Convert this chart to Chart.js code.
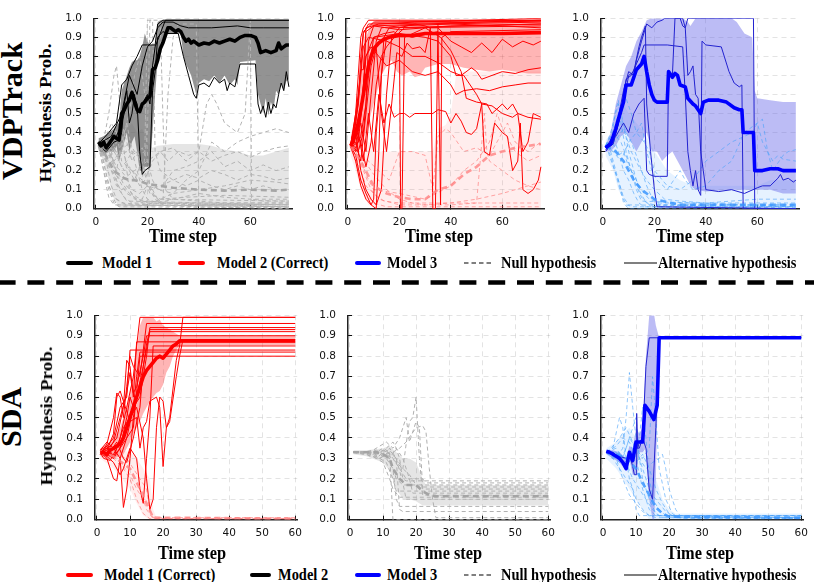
<!DOCTYPE html>
<html><head><meta charset="utf-8">
<script src="https://cdn.jsdelivr.net/npm/chart.js@4.4.1/dist/chart.umd.min.js"></script>
<style>
html,body{margin:0;padding:0;background:#fff;}
#root{position:relative;width:814px;height:582px;overflow:hidden;background:#fff;}
#root canvas{position:absolute;}
.t{position:absolute;font-family:"Liberation Serif","Times New Roman",serif;font-weight:bold;color:#000;white-space:nowrap;line-height:1;}
#ov{position:absolute;left:0;top:0;}
</style></head>
<body><div id="root"><svg id="ov" width="814" height="582"></svg></div>
<script>
// ---------- tick labels / texts ----------
const X_TICKS_TOP = [0, 20, 40, 60];
const X_TICKS_BOT = [0, 10, 20, 30, 40, 50, 60];
const Y_TICKS = [0, 0.1, 0.2, 0.3, 0.4, 0.5, 0.6, 0.7, 0.8, 0.9, 1.0];
const ROW_LABELS = ['VDPTrack', 'SDA'];
const Y_TITLE = 'Hypothesis Prob.';
const X_TITLE = 'Time step';
const LEGEND_TOP = ['Model 1', 'Model 2 (Correct)', 'Model 3', 'Null hypothesis', 'Alternative hypothesis'];
const LEGEND_BOT = ['Model 1 (Correct)', 'Model 2', 'Model 3', 'Null hypothesis', 'Alternative hypothesis'];

// ---------- VDPTrack, Model 1 (black) ----------
const VDP_M1_MEAN = [[1,.35],[2,.33],[3,.35],[4,.32],[5,.34],[6,.36],[7,.38],[8,.37],[9,.36],[10,.5],[11,.52],[12,.55],[13,.57],[14,.61],[15,.56],[16,.52],[17,.51],[18,.55],[19,.56],[20,.58],[21,.59],[22,.73],[23,.74],[24,.78],[25,.84],[26,.87],[27,.91],[28,.95],[29,.95],[30,.94],[31,.93],[32,.94],[33,.93],[34,.9],[35,.88],[36,.89],[37,.87],[38,.88],[40,.86],[42,.87],[44,.865],[46,.88],[48,.87],[50,.88],[52,.89],[54,.88],[56,.9],[58,.91],[60,.91],[62,.9],[63,.87],[64,.82],[66,.83],[68,.82],[70,.83],[71,.87],[72,.84],[73,.85],[74,.86],[75,.86]];
const VDP_M1_ALT_BAND = [[1,.31,.37],[3,.28,.38],[5,.3,.4],[7,.3,.42],[8,.33,.44],[9,.25,.45],[10,.3,.62],[12,.4,.7],[13,.3,.74],[14,.35,.77],[15,.38,.78],[16,.3,.78],[17,.2,.8],[18,.2,.85],[19,.22,.92],[20,.22,.88],[21,.22,.86],[22,.4,.86],[23,.6,.86],[24,.78,.98],[25,.86,.99],[27,.92,.99],[33,.92,.99],[34,.8,.99],[35,.76,.99],[37,.7,.99],[39,.6,.99],[40,.66,.99],[42,.68,.99],[44,.67,.99],[46,.7,.99],[48,.66,.99],[50,.7,.99],[52,.65,.99],[54,.68,.99],[55,.65,.99],[56,.77,.99],[62,.78,.99],[63,.6,.99],[64,.55,.99],[65,.5,.99],[66,.58,.99],[67,.49,.99],[68,.56,.99],[69,.52,.99],[70,.62,.99],[71,.6,.99],[72,.66,.99],[73,.62,.99],[74,.67,.99],[75,.68,.99]];
const VDP_M1_ALT = [
  [[1,.34],[5,.4],[8,.45],[10,.65],[12,.68],[14,.75],[16,.8],[18,.86],[20,.86],[23,.86],[24,.97],[26,.99],[75,.99]],
  [[1,.35],[4,.33],[8,.38],[10,.45],[12,.55],[14,.62],[16,.55],[17,.3],[18,.18],[19,.2],[21,.22],[22,.62],[23,.72],[24,.9],[26,.93],[28,.92],[32,.92],[34,.8],[36,.7],[38,.6],[39,.58],[40,.65],[42,.66],[44,.64],[46,.69],[48,.66],[50,.68],[51,.62],[52,.66],[54,.64],[56,.76],[62,.76],[63,.55],[64,.5],[65,.54],[66,.48],[67,.56],[68,.5],[69,.55],[70,.53],[71,.6],[72,.66],[73,.62],[74,.72],[75,.64]],
  [[1,.34],[6,.38],[10,.5],[13,.7],[16,.6],[18,.75],[20,.85],[22,.88],[24,.95],[26,.98],[30,.98],[33,.96],[36,.95],[45,.95],[55,.96],[60,.95],[65,.95],[75,.95]],
  [[1,.33],[4,.3],[7,.35],[9,.36],[10,.4],[11,.55],[12,.62],[13,.45],[14,.5],[15,.6],[16,.5],[18,.55],[20,.6],[21,.55],[22,.75],[23,.85],[25,.92],[27,.99],[75,.99]]
];
const VDP_M1_NULL_BAND = [[1,.3,.36],[3,.25,.38],[5,.15,.4],[7,.05,.42],[9,.01,.45],[10,0,.5],[12,0,.42],[14,0,.45],[16,0,.4],[18,0,.42],[20,0,.35],[22,.01,.32],[24,.02,.33],[30,.02,.34],[40,.02,.34],[45,.02,.33],[50,.02,.31],[55,.02,.3],[60,.02,.28],[65,.02,.28],[70,.02,.3],[75,.02,.32]];
const VDP_M1_NULL_MEAN = [[1,.33],[3,.3],[5,.25],[7,.2],[9,.18],[11,.16],[13,.15],[15,.15],[18,.14],[20,.13],[25,.12],[30,.11],[40,.1],[50,.095],[60,.1],[70,.095],[75,.1]];
const VDP_M1_NULL = [
  [[1,.33],[3,.2],[5,.1],[7,.03],[9,.01],[75,.005]],
  [[1,.33],[4,.25],[6,.12],[8,.05],[12,.02],[75,.01]],
  [[1,.33],[3,.3],[6,.22],[9,.15],[12,.08],[16,.05],[20,.03],[40,.02],[75,.02]],
  [[1,.33],[3,.36],[5,.5],[7,.7],[8,.75],[9,.6],[11,.3],[13,.1],[15,.05],[20,.02],[75,.01]],
  [[1,.33],[4,.38],[6,.45],[8,.4],[10,.25],[14,.2],[18,.15],[20,.4],[21,.99],[22,.99],[23,.3],[25,.2],[30,.15],[35,.12],[40,.15],[45,.12],[50,.1],[55,.12],[60,.1],[65,.12],[70,.1],[75,.1]],
  [[1,.33],[5,.3],[8,.2],[10,.35],[13,.5],[15,.7],[17,.8],[19,.6],[20,.3],[21,.1],[23,.05],[26,.02],[28,.6],[30,.9],[32,.97],[39,.97],[40,.02],[75,.02]],
  [[1,.33],[3,.28],[6,.2],[10,.15],[15,.2],[20,.25],[25,.3],[30,.32],[35,.25],[40,.3],[43,.55],[45,.6],[47,.55],[50,.45],[55,.4],[58,.5],[60,.99],[60.5,.05],[65,.04],[75,.04]],
  [[1,.33],[3,.25],[5,.12],[7,.06],[10,.03],[20,.02],[30,.08],[35,.15],[40,.2],[45,.35],[50,.3],[55,.35],[60,.38],[65,.4],[70,.42],[75,.4]],
  [[1,.33],[4,.3],[7,.25],[10,.3],[12,.45],[14,.3],[16,.2],[18,.1],[20,.05],[24,.03],[30,.05],[40,.08],[50,.06],[60,.05],[75,.05]],
  [[1,.33],[3,.35],[5,.3],[8,.22],[11,.18],[14,.1],[17,.08],[20,.12],[25,.1],[30,.2],[35,.22],[40,.25],[45,.3],[50,.22],[55,.25],[60,.2],[65,.23],[70,.2],[75,.22]],
  [[1,.33],[2,.3],[4,.18],[6,.08],[8,.02],[75,0]],
  [[1,.33],[5,.32],[9,.28],[12,.3],[16,.28],[19,.3],[20,.99],[25,.99],[26,.5],[27,.1],[30,.05],[40,.04],[50,.03],[75,.03]],
  [[1,.33],[2,.28],[3,.2],[4,.12],[5,.06],[7,.02],[75,.01]],
  [[1,.33],[3,.32],[5,.28],[7,.22],[9,.18],[11,.12],[13,.08],[16,.05],[20,.04],[30,.03],[75,.03]],
  [[1,.33],[3,.35],[5,.38],[7,.33],[9,.25],[11,.2],[13,.22],[15,.18],[17,.12],[19,.15],[21,.08],[25,.05],[35,.06],[50,.07],[75,.06]],
  [[1,.33],[4,.3],[6,.32],[8,.28],[10,.22],[12,.25],[14,.3],[16,.28],[18,.32],[20,.25],[22,.15],[24,.1],[30,.08],[40,.1],[50,.12],[60,.15],[70,.14],[75,.13]],
  [[1,.33],[2,.34],[4,.36],[6,.3],[8,.15],[10,.08],[12,.04],[75,.02]],
  [[1,.33],[3,.3],[5,.35],[7,.42],[9,.38],[11,.32],[13,.35],[15,.3],[17,.28],[19,.2],[21,.12],[23,.06],[26,.03],[75,.01]],
  [[1,.33],[3,.27],[5,.22],[7,.18],[9,.1],[11,.06],[14,.03],[75,.02]],
  [[1,.33],[4,.35],[6,.28],[8,.35],[10,.45],[12,.35],[14,.25],[16,.3],[18,.2],[20,.18],[22,.25],[25,.3],[28,.25],[32,.3],[36,.28],[40,.3],[45,.25],[50,.28],[55,.3],[60,.27],[65,.3],[70,.32],[75,.33]],
  [[1,.33],[2,.31],[4,.26],[6,.2],[8,.12],[10,.1],[12,.12],[14,.08],[16,.06],[18,.05],[20,.12],[22,.1],[24,.05],[75,.04]],
  [[1,.33],[3,.36],[5,.3],[7,.25],[9,.3],[11,.28],[13,.2],[15,.15],[17,.22],[19,.18],[21,.1],[25,.12],[30,.15],[35,.18],[40,.16],[45,.2],[50,.18],[55,.15],[60,.18],[65,.17],[70,.15],[75,.16]]
];

// ---------- VDPTrack, Model 2 (red, correct) ----------
const VDP_M2_MEAN = [[1,.33],[2,.35],[3,.4],[4,.45],[5,.52],[6,.6],[7,.68],[8,.75],[9,.8],[10,.84],[12,.87],[14,.89],[16,.9],[20,.91],[25,.91],[30,.92],[40,.92],[50,.92],[60,.92],[75,.925]];
const VDP_M2_ALT_BAND = [[1,.3,.37],[3,.3,.5],[5,.32,.7],[7,.4,.9],[9,.5,.97],[11,.6,.99],[13,.7,.99],[15,.75,.99],[17,.78,.99],[19,.72,.99],[21,.7,.99],[24,.72,.99],[26,.69,.99],[28,.7,.99],[30,.74,.99],[35,.76,.99],[40,.76,.99],[45,.74,.99],[50,.73,.99],[55,.72,.99],[60,.73,.99],[65,.72,.99],[70,.71,.99],[75,.71,.99]];
const VDP_M2_ALT = [
  [[1,.33],[3,.5],[4,.7],[5,.9],[6,.95],[8,.99],[75,.99]],
  [[1,.34],[3,.45],[5,.72],[6,.92],[8,.97],[75,.985]],
  [[1,.32],[4,.35],[6,.6],[7,.93],[10,.96],[30,.97],[50,.98],[75,.99]],
  [[1,.33],[3,.38],[5,.45],[7,.3],[9,.6],[11,.88],[13,.95],[20,.96],[40,.97],[60,.96],[75,.95]],
  [[1,.33],[4,.4],[6,.25],[8,.5],[10,.3],[12,.6],[14,.45],[16,.55],[18,.48],[20,.5],[22,.5],[24,.48],[26,.5],[28,.5],[33,.5],[35,.52],[38,.51],[40,.45],[42,.5],[44,.46],[46,.4],[48,.39],[50,.42],[52,.55],[56,.54],[60,.5],[64,.48],[66,.5],[70,.48],[75,.47]],
  [[1,.33],[5,.5],[7,.8],[9,.85],[12,.8],[15,.75],[20,.78],[25,.72],[30,.7],[35,.72],[40,.65],[42,.6],[45,.62],[50,.63],[55,.62],[60,.64],[65,.65],[70,.66],[75,.66]],
  [[1,.33],[4,.55],[6,.85],[8,.9],[15,.88],[20,.85],[25,.8],[30,.8],[33,.78],[36,.76],[40,.72],[44,.7],[48,.74],[50,.72],[52,.68],[56,.7],[60,.72],[65,.71],[70,.73],[75,.74]],
  [[1,.33],[4,.3],[6,.4],[8,.7],[10,.9],[14,.92],[18,.93],[20,.9],[20.5,0],[21,0],[22,.9],[30,.95],[36,.9],[40,.83],[44,.72],[46,.58],[50,.56],[54,.55],[56,.5],[60,.55],[62,.52],[64,.55],[66,.5],[68,.3],[70,.35],[72,.5],[75,.48]],
  [[1,.33],[3,.3],[5,.5],[7,.8],[10,.9],[20,.92],[30,.9],[35,.88],[40,.8],[42,.7],[45,.7],[50,.6],[52,.55],[53,.3],[55,.28],[57,.45],[60,.4],[62,.38],[64,.2],[66,.25],[67,.45],[68,.1],[70,.08],[72,.1],[74,.15],[75,.22]],
  [[1,.33],[3,.4],[5,.2],[7,.1],[9,.05],[11,.02],[13,.1],[15,.6],[17,.9],[20,.95],[26,.97],[30,.96],[32,.95],[33,0],[34,0],[35,.97],[75,.98]],
  [[1,.33],[3,.25],[5,.12],[7,.05],[9,.02],[10,.05],[11,.4],[13,.7],[15,.9],[20,.92],[25,.9],[35,.93],[36,.02],[36.5,.9],[40,.93],[75,.94]],
  [[1,.33],[3,.28],[5,.15],[7,.08],[9,.02],[11,0],[12,.3],[13,.7],[14,.9],[16,.95],[75,.97]],
  [[1,.32],[2,.4],[4,.6],[5,.73],[6,.73],[7,.95],[12,.97],[26,.98],[75,1.0]],
  [[1,.33],[3,.35],[5,.25],[7,.5],[9,.75],[11,.85],[13,.5],[15,.3],[17,.55],[19,.82],[21,.8],[23,.87],[25,.84],[28,.85],[30,.82],[32,.95],[35,.95],[40,.88],[44,.85],[48,.82],[52,.87],[56,.82],[60,.89],[64,.85],[68,.88],[72,.86],[75,.88]],
  [[1,.33],[2,.36],[3,.45],[4,.55],[5,.8],[6,.93],[10,.98],[75,.99]],
  [[1,.34],[3,.32],[5,.38],[7,.55],[8,.88],[10,.96],[20,.94],[40,.96],[75,.97]],
  [[1,.33],[3,.42],[5,.35],[7,.22],[9,.35],[11,.65],[13,.8],[15,.85],[18,.9],[22,.95],[75,.96]]
];
const VDP_M2_NULL_BAND = [[1,.28,.36],[3,.2,.38],[5,.1,.4],[8,.02,.35],[12,0,.3],[20,0,.3],[33,0,.3],[35,0,.42],[38,0,.44],[40,0,.5],[42,0,.7],[45,0,.72],[50,0,.72],[60,0,.72],[75,0,.72]];
const VDP_M2_NULL_MEAN = [[1,.33],[5,.25],[10,.12],[15,.08],[20,.06],[25,.05],[30,.05],[35,.1],[40,.12],[45,.18],[50,.22],[55,.28],[60,.3],[65,.32],[70,.33],[75,.34]];
const VDP_M2_NULL = [
  [[1,.33],[3,.25],[5,.15],[7,.08],[10,.03],[15,.01],[75,.01]],
  [[1,.33],[3,.3],[6,.2],[9,.1],[12,.05],[20,.02],[30,.02],[40,.03],[50,.05],[60,.08],[70,.12],[75,.14]],
  [[1,.33],[4,.3],[8,.25],[12,.2],[16,.15],[20,.3],[25,.3],[30,.28],[33,.1],[35,.38],[38,.42],[40,.4],[45,.3],[50,.32],[55,.28],[60,.4],[62,.45],[65,.35],[70,.3],[75,.35]],
  [[1,.33],[5,.28],[10,.18],[15,.1],[20,.05],[25,.03],[30,.02],[40,.02],[50,.03],[53,.5],[54,.3],[55,.25],[60,.2],[65,.15],[70,.12],[75,.1]],
  [[1,.33],[3,.28],[5,.2],[7,.12],[10,.08],[14,.04],[20,.03],[75,.03]],
  [[1,.33],[4,.3],[7,.18],[10,.1],[20,.08],[30,.05],[40,.12],[45,.2],[50,.25],[55,.35],[58,.5],[60,.42],[65,.3],[70,.25],[75,.28]]
];

// ---------- VDPTrack, Model 3 (blue) ----------
const VDP_M3_MEAN = [[1,.32],[3,.34],[5,.42],[6,.47],[8,.56],[9,.65],[11,.65],[13,.73],[15,.76],[16,.8],[17,.72],[18,.65],[19,.6],[20,.57],[21,.56],[25,.56],[25.5,.72],[27,.69],[28,.71],[29,.7],[30,.65],[32,.64],[33,.58],[35,.55],[36,.54],[38,.5],[39,.56],[41,.57],[45,.57],[48,.56],[51,.53],[53,.52],[54,.52],[54.5,.4],[58.5,.4],[59,.2],[62,.2],[65,.21],[68,.21],[70,.2],[75,.2]];
const VDP_M3_ALT_BAND = [[1,.3,.33],[3,.3,.4],[5,.33,.55],[7,.38,.65],[9,.4,.75],[11,.35,.8],[13,.3,.88],[15,.35,.93],[17,.4,.99],[19,.3,1],[21,.3,1],[23,.25,1],[25,.28,1],[27,.3,1],[29,.25,1],[31,.2,1],[33,.15,.98],[34,.12,.96],[36,.1,1],[40,.09,1],[50,.1,1],[52,.1,.98],[55,.1,.92],[58,.1,.9],[59,.1,.62],[60,.1,.58],[65,.1,.57],[70,.08,.56],[75,.08,.56]];
const VDP_M3_ALT = [
  [[1,.32],[5,.4],[8,.55],[10,.7],[12,.72],[14,.85],[15,.9],[16.5,.96],[17,.55],[18.5,.3],[20,.1],[21,.01],[75,0]],
  [[1,.31],[4,.34],[7,.5],[9,.68],[11,.7],[13,.76],[15,.82],[16,.86],[25,.86],[31,.85],[32,.6],[33,.3],[34,.2],[35,.12],[36,.2],[37,.1],[38,.07],[38.5,.88],[40,.86],[46,.85],[49,.72],[51,.66],[53,.64],[54,.65],[54.5,0],[75,0]],
  [[1,.32],[5,.38],[8,.45],[10,.4],[12,.5],[14,.55],[16,.58],[17,.2],[18,.18],[20,.17],[22,.17],[25,.17],[25.5,.72],[27,.7],[28,1.0],[31,1.0],[32,.95],[33,1.0],[58.5,1.0],[59,0],[75,0]],
  [[1,.3],[4,.35],[6,.48],[8,.62],[10,.72],[12,.7],[13,.78],[15,.88],[17,.97],[19,.95],[21,.98],[23,.99],[24,1.0],[30,1.0],[31,.96],[32,.95],[33,.7],[34,.72],[35,.75],[36,.6],[37,.58],[38,.3],[39,.2],[40,.1],[45,.09],[50,.1],[55,.08],[60,.11],[62,.12],[65,.12],[68,.16],[69,.18],[70,.15],[72,.16],[74,.14],[75,.15]]
];
const VDP_M3_NULL_BAND = [[1,.28,.36],[4,.2,.4],[6,.1,.5],[8,.05,.55],[10,0,.5],[13,0,.45],[16,0,.4],[20,0,.3],[25,0,.2],[30,0,.15],[35,0,.12],[40,0,.12],[50,0,.12],[60,0,.12],[65,0,.15],[70,0,.15],[75,0,.15]];
const VDP_M3_NULL_MEAN = [[1,.33],[5,.3],[8,.25],[10,.2],[12,.15],[15,.1],[20,.05],[30,.02],[40,.02],[50,.02],[60,.02],[75,.02]];
const VDP_M3_NULL = [
  [[1,.33],[3,.3],[5,.2],[7,.1],[8,.03],[10,0],[75,0]],
  [[1,.33],[3,.4],[5,.5],[6,.55],[8,.45],[10,.3],[12,.2],[14,.1],[16,.05],[18,.02],[20,.01],[75,.01]],
  [[1,.33],[4,.38],[6,.3],[8,.2],[10,.15],[12,.08],[14,.03],[16,.01],[75,.005]],
  [[1,.32],[3,.35],[5,.45],[7,.55],[9,.58],[11,.5],[13,.4],[15,.45],[17,.3],[19,.2],[21,.15],[25,.1],[30,.2],[32,.15],[35,.1],[40,.12],[45,.2],[50,.25],[55,.4],[60,.45],[62,.47],[64,.3],[66,.2],[70,.28],[72,.3],[75,.31]],
  [[1,.33],[4,.3],[7,.25],[10,.35],[13,.4],[16,.35],[18,.3],[20,.2],[25,.12],[30,.1],[35,.15],[40,.25],[45,.3],[50,.35],[55,.38],[58,.4],[60,.45],[62,.35],[64,.3],[66,.25],[68,.28],[70,.26],[75,.25]],
  [[1,.33],[3,.28],[5,.18],[7,.08],[9,.02],[12,.01],[75,.01]],
  [[1,.33],[5,.36],[8,.42],[11,.3],[14,.22],[17,.15],[20,.1],[24,.05],[30,.04],[40,.03],[50,.04],[60,.05],[70,.05],[75,.05]],
  [[1,.33],[4,.4],[7,.35],[9,.28],[11,.2],[13,.12],[15,.06],[17,.03],[20,.02],[75,.02]],
  [[1,.33],[2,.3],[4,.22],[6,.15],[8,.06],[10,.02],[75,.01]],
  [[1,.33],[3,.38],[5,.42],[7,.48],[9,.4],[11,.35],[13,.28],[15,.2],[17,.12],[19,.06],[22,.02],[75,.02]],
  [[1,.33],[4,.34],[6,.28],[8,.3],[10,.22],[12,.18],[14,.12],[16,.08],[18,.05],[22,.03],[75,.03]],
  [[1,.33],[3,.35],[5,.52],[6,.57],[7,.45],[9,.3],[11,.2],[13,.1],[15,.04],[75,.01]]
];

// ---------- SDA, Model 1 (red, correct) ----------
const SDA_M1_MEAN = [[1,.33],[2,.33],[3,.32],[4,.34],[5,.35],[6,.36],[7,.37],[8,.4],[9,.45],[10,.5],[11,.55],[12,.6],[13,.65],[14,.7],[15,.73],[16,.75],[17,.77],[18,.79],[19,.8],[20,.79],[21,.81],[22,.83],[23,.85],[24,.86],[25,.875],[60,.875]];
const SDA_M1_ALT_BAND = [[1,.31,.35],[3,.3,.37],[5,.3,.4],[7,.31,.45],[8,.32,.5],[9,.35,.55],[10,.38,.62],[11,.42,.7],[12,.45,.82],[13,.48,.95],[14,.52,.99],[15,.55,.99],[16,.58,.99],[17,.6,.99],[18,.62,.97],[19,.63,.98],[20,.66,.95],[21,.72,.94],[22,.75,.93],[23,.8,.92],[24,.83,.91],[25,.855,.9],[60,.855,.9]];
const SDA_M1_ALT = [
  [[1,.33],[3,.35],[5,.3],[7,.4],[9,.55],[11,.7],[12,.85],[13,.99],[60,.99]],
  [[1,.32],[3,.37],[5,.5],[6,.62],[7,.6],[8,.5],[9,.65],[10,.8],[11,.75],[13,.7],[15,.96],[60,.96]],
  [[1,.33],[3,.3],[5,.2],[6,.19],[7,.3],[9,.4],[11,.55],[13,.6],[14,.7],[15,.8],[16,.94],[60,.94]],
  [[1,.34],[3,.38],[5,.35],[7,.3],[8,.06],[9,.15],[10,.3],[11,.5],[12,.6],[14,.75],[16,.92],[60,.92]],
  [[1,.33],[2,.3],[4,.29],[6,.35],[8,.45],[10,.5],[12,.55],[14,.4],[15,.2],[16,.05],[17,.1],[18,.45],[19,.6],[20,.58],[21,.45],[22,.5],[24,.78],[25,.85],[26,.99],[60,.99]],
  [[1,.32],[3,.33],[5,.38],[7,.5],[9,.62],[10,.72],[11,.62],[12,.65],[14,.8],[15,.9],[60,.9]],
  [[1,.33],[4,.36],[6,.4],[8,.55],[9,.78],[10,.75],[11,.6],[12,.87],[60,.87]],
  [[1,.33],[3,.31],[5,.28],[7,.22],[8,.25],[10,.35],[12,.3],[13,.15],[14,.08],[15,.3],[16,.5],[17,.85],[60,.85]],
  [[1,.34],[3,.36],[5,.4],[7,.55],[9,.6],[10,.83],[60,.83]],
  [[1,.33],[3,.34],[5,.42],[6,.6],[7,.63],[8,.58],[10,.48],[12,.5],[13,.35],[14,.45],[15,.48],[16,.58],[18,.6],[19,.55],[20,.26],[21,.45],[22,.48],[24,.7],[25,.8],[26,.88],[60,.88]],
  [[1,.33],[3,.32],[5,.3],[7,.35],[9,.4],[11,.45],[13,.8],[60,.8]],
  [[1,.32],[3,.36],[5,.31],[7,.35],[9,.5],[10,.6],[11,.55],[12,.7],[13,.82],[60,.82]],
  [[1,.33],[3,.31],[6,.38],[8,.3],[9,.28],[11,.4],[13,.55],[14,.75],[15,.86],[16,.93],[60,.93]]
];
const SDA_M1_NULL_BAND = [[1,.3,.35],[5,.25,.35],[10,.15,.33],[12,.08,.3],[14,.02,.25],[16,0,.2],[17,0,.05],[18,0,.01],[60,0,.01]];
const SDA_M1_NULL_MEAN = [[1,.33],[5,.31],[10,.25],[13,.15],[15,.08],[17,.01],[60,.005]];
const SDA_M1_NULL = [
  [[1,.33],[5,.3],[8,.25],[10,.2],[12,.1],[14,.03],[16,.005],[60,.005]],
  [[1,.33],[4,.32],[7,.28],[10,.22],[12,.15],[14,.1],[15,.05],[17,.005],[60,.005]],
  [[1,.33],[5,.32],[9,.3],[11,.25],[13,.2],[15,.15],[16,.05],[17,.01],[60,.01]]
];

// ---------- SDA, Model 2 (black/grey) ----------
const SDA_M2_NULL_BAND = [[1,.32,.34],[5,.31,.34],[10,.28,.35],[12,.24,.36],[14,.15,.33],[16,.1,.3],[18,.1,.3],[20,.09,.28],[22,.07,.2],[23,.07,.17],[60,.07,.17]];
const SDA_M2_NULL_MEAN = [[1,.33],[5,.33],[8,.33],[10,.32],[12,.3],[13,.25],[15,.2],[17,.17],[20,.17],[22,.14],[24,.12],[26,.115],[60,.115]];
const SDA_M2_NULL = [
  [[1,.33],[3,.33],[5,.33],[7,.32],[9,.3],[11,.28],[13,.2],[14,.14],[17,.14],[60,.14]],
  [[1,.33],[4,.33],[6,.31],[8,.33],[10,.35],[12,.33],[13,0],[60,0]],
  [[1,.33],[4,.33],[7,.34],[9,.36],[11,.38],[13,.35],[15,.4],[16,.45],[17,.5],[18,.38],[20,.48],[21,.45],[22,.15],[60,.15]],
  [[1,.33],[5,.33],[8,.3],[10,.33],[12,.34],[14,.3],[16,.25],[17,.37],[18,.48],[19,.5],[20,.6],[21,.3],[22,.12],[60,.12]],
  [[1,.33],[4,.32],[7,.33],[10,.32],[12,.3],[14,.35],[16,.3],[18,.2],[19,.13],[60,.13]],
  [[1,.33],[4,.33],[8,.32],[11,.35],[13,.38],[14,.35],[15,.3],[16,.2],[17,.19],[60,.19]],
  [[1,.33],[5,.32],[8,.3],[10,.28],[12,.2],[13,.15],[15,.11],[60,.11]],
  [[1,.33],[5,.33],[9,.32],[11,.3],[13,.25],[14,.1],[15,.065],[60,.065]],
  [[1,.33],[5,.33],[8,.34],[10,.32],[12,.33],[14,.3],[15,.05],[16,.04],[60,.04]],
  [[1,.33],[6,.32],[9,.3],[11,.32],[13,.33],[15,.35],[17,.38],[20,.45],[22,.46],[23,.43],[24,.25],[25,.1],[26,.01],[60,.01]],
  [[1,.33],[5,.33],[9,.33],[12,.3],[14,.2],[16,.17],[17,.17],[60,.17]],
  [[1,.33],[4,.33],[7,.33],[9,.3],[11,.32],[12,.35],[14,.3],[16,.18],[17,.1],[60,.1]],
  [[1,.33],[5,.33],[8,.33],[11,.34],[13,.3],[15,.25],[17,.2],[20,.2],[22,.2],[23,.18],[60,.18]],
  [[1,.33],[6,.33],[9,.33],[12,.31],[14,.28],[16,.25],[18,.22],[20,.17],[21,.16],[60,.16]]
];

// ---------- SDA, Model 3 (blue) ----------
const SDA_M3_MEAN = [[1,.335],[2,.33],[3,.32],[4,.31],[5,.3],[6,.28],[7,.25],[8,.33],[9,.29],[10,.38],[11,.38],[12,.38],[12.7,.56],[14,.53],[15.4,.49],[16.4,.56],[17,.89],[60,.89]];
const SDA_M3_ALT_BAND = [[1,.32,.34],[3,.3,.34],[5,.28,.33],[7,.24,.3],[8,.3,.36],[9,.22,.35],[10,.22,.45],[11,.33,.42],[12,.33,.45],[13,.35,.8],[14,.1,1],[15,0,1],[15.5,0,1],[16,.2,.95],[17,.89,.89],[60,.89,.89]];
const SDA_M3_ALT = [
  [[1,.33],[3,.33],[5,.3],[7,.27],[8,.32],[9,.26],[9.5,.22],[10,.22],[10.2,.52],[10.5,.35],[11,.38],[12,.4],[13,.75],[14,.89],[60,.89]],
  [[1,.33],[3,.32],[5,.31],[7,.3],[8,.3],[9,.28],[10,.35],[11,.35],[12,.4],[13,.35],[14,.15],[15,.1],[16,.45],[17,.89],[60,.89]]
];
const SDA_M3_NULL_BAND = [[1,.3,.35],[4,.25,.38],[6,.2,.42],[8,.15,.45],[10,.1,.4],[12,.05,.35],[14,0,.3],[16,0,.2],[18,0,.1],[20,0,.05],[22,0,.03],[60,0,.03]];
const SDA_M3_NULL_MEAN = [[1,.33],[4,.32],[7,.3],[10,.25],[12,.18],[14,.12],[16,.06],[18,.03],[20,.015],[60,.01]];
const SDA_M3_NULL = [
  [[1,.33],[3,.35],[5,.5],[6,.45],[7,.3],[8,.2],[10,.1],[12,.05],[14,.02],[16,.01],[60,.01]],
  [[1,.33],[4,.3],[6,.35],[7,.5],[8,.72],[9,.55],[10,.4],[12,.2],[14,.1],[16,.03],[18,.01],[60,.01]],
  [[1,.33],[3,.3],[5,.25],[7,.2],[9,.15],[10,.05],[11,.02],[60,.02]],
  [[1,.33],[4,.33],[6,.3],[8,.4],[10,.35],[12,.3],[14,.35],[15,.7],[16,.5],[17,.25],[19,.1],[21,.03],[23,.01],[60,.01]],
  [[1,.33],[3,.32],[5,.28],[7,.35],[9,.45],[10,.5],[11,.3],[13,.25],[15,.28],[17,.3],[18,.32],[19,.25],[20,.15],[22,.05],[24,.005],[60,.005]],
  [[1,.33],[4,.36],[6,.4],[8,.38],[10,.3],[12,.15],[14,.05],[16,.02],[60,.02]],
  [[1,.33],[3,.31],[5,.3],[7,.25],[9,.35],[11,.4],[12,.55],[13,.4],[14,.2],[15,.12],[17,.08],[19,.04],[21,.02],[60,.02]],
  [[1,.33],[4,.3],[6,.2],[8,.12],[10,.08],[12,.04],[14,.02],[60,.01]],
  [[1,.33],[3,.36],[5,.4],[7,.45],[9,.38],[11,.3],[13,.2],[15,.1],[17,.05],[19,.02],[60,.01]],
  [[1,.33],[3,.3],[5,.33],[7,.28],[9,.2],[11,.15],[13,.1],[15,.05],[17,.02],[60,.02]],
  [[1,.33],[4,.35],[6,.3],[8,.32],[10,.28],[12,.32],[14,.25],[16,.15],[18,.08],[20,.03],[22,.01],[60,.005]]
];

// ---------- styles (kept separate from data) ----------
const STYLES = {
  black: {alt:'#000000', mean:'#000000', band:'rgba(105,105,105,0.72)', nul:'#b3b3b3', nulBand:'rgba(0,0,0,0.1)', nulMean:'#a6a6a6'},
  red:   {alt:'#ff0000', mean:'#ff0000', band:'rgba(255,30,30,0.33)', nul:'rgba(255,110,110,0.6)', nulBand:'rgba(255,60,60,0.09)', nulMean:'rgba(255,130,130,0.8)'},
  blue:  {alt:'#2323d0', mean:'#0000ff', band:'rgba(95,95,230,0.42)', nul:'rgba(70,160,250,0.6)', nulBand:'rgba(100,175,255,0.16)', nulMean:'rgba(60,150,255,0.85)'},
  gray:  {alt:'#000000', mean:'#000000', band:'rgba(0,0,0,0)', nul:'#b0b0b0', nulBand:'rgba(0,0,0,0.1)', nulMean:'#a4a4a4'}
};
const ROWS = [
  {areaTop:4,   areaH:205, lefts:[94,346,601], w:198, xmin:-0.75, xmax:76.2, xticks:X_TICKS_TOP},
  {areaTop:301, areaH:219, lefts:[95,348,601], w:210, xmin:-0.6,  xmax:60.6, xticks:X_TICKS_BOT}
];
const PANELS = [
  {row:0,col:0,style:'black',mean:VDP_M1_MEAN,band:VDP_M1_ALT_BAND,alt:VDP_M1_ALT,nulBand:VDP_M1_NULL_BAND,nulMean:VDP_M1_NULL_MEAN,nul:VDP_M1_NULL},
  {row:0,col:1,style:'red',  mean:VDP_M2_MEAN,band:VDP_M2_ALT_BAND,alt:VDP_M2_ALT,nulBand:VDP_M2_NULL_BAND,nulMean:VDP_M2_NULL_MEAN,nul:VDP_M2_NULL},
  {row:0,col:2,style:'blue', mean:VDP_M3_MEAN,band:VDP_M3_ALT_BAND,alt:VDP_M3_ALT,nulBand:VDP_M3_NULL_BAND,nulMean:VDP_M3_NULL_MEAN,nul:VDP_M3_NULL},
  {row:1,col:0,style:'red',  mean:SDA_M1_MEAN,band:SDA_M1_ALT_BAND,alt:SDA_M1_ALT,nulBand:SDA_M1_NULL_BAND,nulMean:SDA_M1_NULL_MEAN,nul:SDA_M1_NULL},
  {row:1,col:1,style:'gray', mean:null,band:null,alt:[],nulBand:SDA_M2_NULL_BAND,nulMean:SDA_M2_NULL_MEAN,nul:SDA_M2_NULL},
  {row:1,col:2,style:'blue', mean:SDA_M3_MEAN,band:SDA_M3_ALT_BAND,alt:SDA_M3_ALT,nulBand:SDA_M3_NULL_BAND,nulMean:SDA_M3_NULL_MEAN,nul:SDA_M3_NULL}
];

// ---------- builders ----------
const YW = 40, PT = 8, PR = 8, XH = 22;
const root = document.getElementById('root');
const xy = pts => pts.map(p => ({x:p[0], y:p[1]}));
function lineDS(pts, color, width, dash, order){
  return {data:xy(pts), borderColor:color, borderWidth:width, borderDash:dash, fill:false,
          pointRadius:0, order, borderJoinStyle:'round', borderCapStyle:'butt', tension:0};
}
function bandDS(tri, color, order){
  return [
    {data:tri.map(p=>({x:p[0],y:p[2]})), borderColor:'rgba(0,0,0,0)', borderWidth:0, backgroundColor:color, fill:'+1', pointRadius:0, order, tension:0},
    {data:tri.map(p=>({x:p[0],y:p[1]})), borderColor:'rgba(0,0,0,0)', borderWidth:0, fill:false, pointRadius:0, order, tension:0}
  ];
}
function buildPanel(P){
  const R = ROWS[P.row], S = STYLES[P.style];
  const left = R.lefts[P.col];
  const cv = document.createElement('canvas');
  cv.width = YW + R.w + PR; cv.height = PT + R.areaH + XH;
  cv.style.left = (left - YW) + 'px'; cv.style.top = (R.areaTop - PT) + 'px';
  root.appendChild(cv);
  let ds = [];
  ds = ds.concat(bandDS(P.nulBand, S.nulBand, 12));
  if (P.band) ds = ds.concat(bandDS(P.band, S.band, 11));
  P.nul.forEach(l => ds.push(lineDS(l, S.nul, 1, [4,3], 7)));
  P.alt.forEach(l => ds.push(lineDS(l, S.alt, 1, [], 5)));
  ds.push(lineDS(P.nulMean, S.nulMean, 2.6, [6,4], 3));
  if (P.mean) ds.push(lineDS(P.mean, S.mean, 3.6, [], 1));
  new Chart(cv, {
    type:'line',
    data:{datasets:ds},
    options:{
      responsive:false, animation:false, events:[],
      layout:{padding:{top:PT, right:PR, left:0, bottom:0}},
      plugins:{legend:{display:false}, tooltip:{enabled:false}},
      scales:{
        x:{type:'linear', min:R.xmin, max:R.xmax,
           afterBuildTicks:s=>{s.ticks = R.xticks.map(v=>({value:v}));},
           afterFit:s=>{s.height = XH;},
           grid:{color:'rgba(0,0,0,0.11)', tickColor:'#111', tickLength:-4, tickWidth:1},
           border:{display:true, color:'#222', width:1.5, dash:[5,4]},
           ticks:{font:{family:'DejaVu Sans', size:10.5}, color:'#111', padding:11, maxRotation:0, autoSkip:false, callback:v=>String(v)}},
        y:{type:'linear', min:0, max:1,
           afterBuildTicks:s=>{s.ticks = Y_TICKS.map(v=>({value:v}));},
           afterFit:s=>{s.width = YW;},
           grid:{color:'rgba(0,0,0,0.11)', tickColor:'#111', tickLength:-4, tickWidth:1},
           border:{display:true, color:'#222', width:1.5, dash:[5,4]},
           ticks:{font:{family:'DejaVu Sans', size:10.5}, color:'#111', padding:16, autoSkip:false, callback:v=>Number(v).toFixed(1)}}
      }
    }
  });
}
PANELS.forEach(buildPanel);

// ---------- texts ----------
function addText(str, x, y, size, transform, origin){
  const d = document.createElement('div');
  d.className = 't'; d.textContent = str;
  d.style.left = x + 'px'; d.style.top = y + 'px'; d.style.fontSize = size + 'px';
  d.style.transform = transform;
  if (origin) d.style.transformOrigin = origin;
  root.appendChild(d);
}
addText(ROW_LABELS[0], 12, 111, 30, 'translate(-50%,-50%) rotate(-90deg)');
addText(ROW_LABELS[1], 11, 417, 30, 'translate(-50%,-50%) rotate(-90deg)');
addText(Y_TITLE, 45, 113, 19, 'translate(-50%,-50%) rotate(-90deg) scaleY(0.85)');
addText(Y_TITLE, 47, 416, 19, 'translate(-50%,-50%) rotate(-90deg) scaleY(0.85)');
[183, 439, 690].forEach(cx => addText(X_TITLE, cx, 235, 19, 'translate(-50%,-50%) scaleX(0.86)'));
[192, 448, 700].forEach(cx => addText(X_TITLE, cx, 552, 19, 'translate(-50%,-50%) scaleX(0.86)'));

// ---------- legends + separator (svg) ----------
const svg = document.getElementById('ov');
const NS = 'http://www.w3.org/2000/svg';
function svgLine(x1,y1,x2,y2,color,w,dash,cap){
  const l = document.createElementNS(NS,'line');
  l.setAttribute('x1',x1); l.setAttribute('y1',y1); l.setAttribute('x2',x2); l.setAttribute('y2',y2);
  l.setAttribute('stroke',color); l.setAttribute('stroke-width',w);
  if (dash) l.setAttribute('stroke-dasharray',dash);
  l.setAttribute('stroke-linecap',cap||'butt');
  svg.appendChild(l);
}
const LEG_POS_TOP = [
  {sx1:68,sx2:91,kind:'thick',color:'#000',tx:102},
  {sx1:180,sx2:203,kind:'thick',color:'#ff0000',tx:217},
  {sx1:357,sx2:379,kind:'thick',color:'#0000ff',tx:387},
  {sx1:464,sx2:491,kind:'dash',color:'#000',tx:501},
  {sx1:624,sx2:657,kind:'solid',color:'#000',tx:658}
];
const LEG_POS_BOT = [
  {sx1:68,sx2:91,kind:'thick',color:'#ff0000',tx:104},
  {sx1:252,sx2:269,kind:'thick',color:'#000',tx:278},
  {sx1:357,sx2:379,kind:'thick',color:'#0000ff',tx:387},
  {sx1:464,sx2:491,kind:'dash',color:'#000',tx:501},
  {sx1:624,sx2:657,kind:'solid',color:'#000',tx:658}
];
function legend(labels, pos, cy){
  pos.forEach((p,i)=>{
    if (p.kind==='thick') svgLine(p.sx1, cy+1, p.sx2, cy+1, p.color, 4, null, 'round');
    else if (p.kind==='dash') svgLine(p.sx1, cy+1, p.sx2, cy+1, p.color, 1.2, '4.5 3');
    else svgLine(p.sx1, cy+1, p.sx2, cy+1, p.color, 1.2);
    addText(labels[i], p.tx, cy, 17, 'translateY(-50%) scaleX(0.85)', '0 50%');
  });
}
legend(LEGEND_TOP, LEG_POS_TOP, 262);
legend(LEGEND_BOT, LEG_POS_BOT, 574);
svgLine(-1.4, 282.5, 814, 282.5, '#000', 4.5, '17 11.8');
</script>
</body></html>
